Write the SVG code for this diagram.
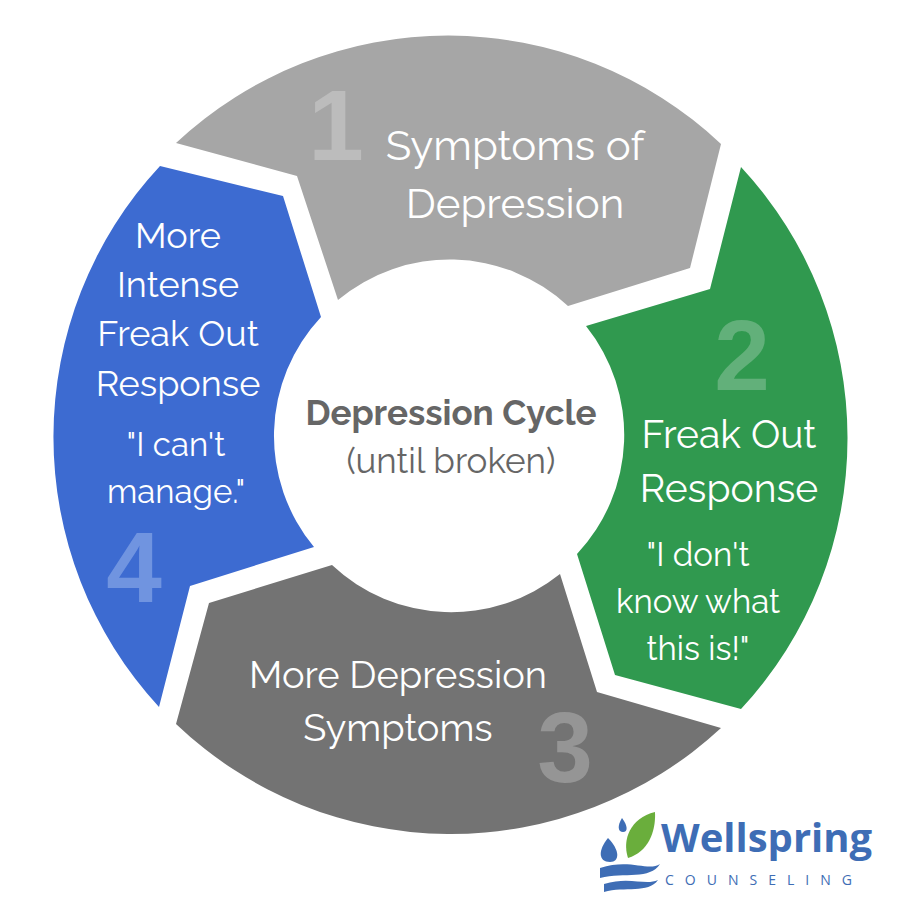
<svg xmlns="http://www.w3.org/2000/svg" width="900" height="900" viewBox="0 0 900 900">
<style>
.t{font-family:Raleway,"Open Sans","Liberation Sans",sans-serif;fill:#fff;text-anchor:middle}
.n{font-family:"Liberation Sans",sans-serif;font-weight:bold;text-anchor:middle}
.c{font-family:Raleway,"Open Sans","Liberation Sans",sans-serif;fill:#666;text-anchor:middle}
</style>
<rect width="900" height="900" fill="#fff"/>
<g id="seg1">
<path d="M176,143 A398,398 0 0 1 721,144 L690,268 L568,306 A174,174 0 0 0 338,300 L297,176 Z" fill="#a6a6a6"/>
<text class="n" x="336" y="160" font-size="100" fill="#bcbcbc">1</text>
<text class="t" font-size="42"><tspan x="515" y="160">Symptoms of</tspan><tspan x="515" y="218">Depression</tspan></text>
</g>
<g id="seg2">
<path d="M741,167 A398,398 0 0 1 741,709 L615,675 L577,554 A174,174 0 0 0 586,326 L710,289 Z" fill="#30994f"/>
<text class="n" x="742" y="390" font-size="100" fill="#62b07a">2</text>
<text class="t" font-size="39"><tspan x="729" y="448">Freak Out</tspan><tspan x="729" y="502">Response</tspan></text>
<text class="t" font-size="33"><tspan x="698" y="566">"I don't</tspan><tspan x="698" y="613">know what</tspan><tspan x="698" y="660">this is!"</tspan></text>
</g>
<g id="seg3">
<path d="M721,728 A398,398 0 0 1 176,724 L209,603 L332,565 A174,174 0 0 0 560,574 L597,692 Z" fill="#737373"/>
<text class="n" x="565" y="782" font-size="100" fill="#959595">3</text>
<text class="t" font-size="38"><tspan x="398" y="688">More Depression</tspan><tspan x="398" y="741">Symptoms</tspan></text>
</g>
<g id="seg4">
<path d="M159,707 A398,398 0 0 1 160,166 L283,196 L321,317 A174,174 0 0 0 314,547 L190,586 Z" fill="#3d6bd1"/>
<text class="n" x="134" y="602" font-size="100" fill="#7094e0">4</text>
<text class="t" font-size="36"><tspan x="178" y="248">More</tspan><tspan x="178" y="297">Intense</tspan><tspan x="178" y="346">Freak Out</tspan><tspan x="178" y="396">Response</tspan></text>
<text class="t" font-size="33"><tspan x="176" y="456">"I can't</tspan><tspan x="176" y="503">manage."</tspan></text>
</g>
<g id="center">
<text class="c" x="451" y="425" font-size="35" font-weight="bold">Depression Cycle</text>
<text class="c" x="451" y="473" font-size="35">(until broken)</text>
</g>
<g id="logo">
<path d="M608,838 C598,850 598,862 610,862 C620,862 620,850 608,838 Z" fill="#3e6db5"/>
<path d="M622,818 C617,826 618,832 623,832 C628,832 628,826 622,818 Z" fill="#3e6db5"/>
<path d="M655,812 C630,818 622,840 628,858 C648,852 656,832 655,812 Z" fill="#6aae3c"/>
<path d="M600,868 C630,858 648,872 660,864 C650,880 625,872 600,878 Z M604,884 C630,876 645,886 658,880 C648,894 625,886 604,892 Z" fill="#3e6db5"/>
<text x="661" y="852" font-family="'Open Sans','Liberation Sans',sans-serif" font-weight="bold" font-size="40" fill="#3e6db5">Wellspring</text>
<text x="665" y="885" font-family="'Open Sans','Liberation Sans',sans-serif" font-size="14" letter-spacing="11" fill="#3e6db5">COUNSELING</text>
</g>
</svg>
